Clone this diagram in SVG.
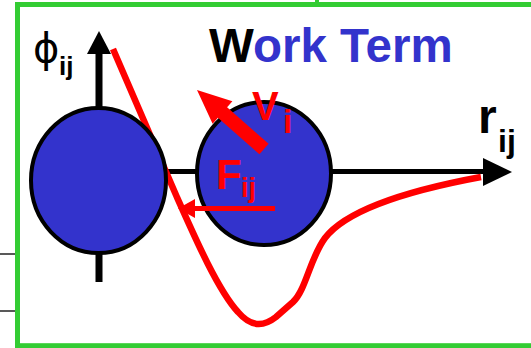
<svg xmlns="http://www.w3.org/2000/svg" width="531" height="348" viewBox="0 0 531 348">
<style>
.t{font-family:"Liberation Sans",Arial,sans-serif;font-weight:bold}
.red{fill:#ff0000}
.blk{fill:#000}
.atom{fill:#3333cc;stroke:#000;stroke-width:4}
</style>
<rect width="531" height="348" fill="#fff"/>
<g id="frame">
<rect x="17.5" y="4.5" width="540" height="341.2" fill="none" stroke="#33cc33" stroke-width="5"/>
<rect x="315" y="0" width="4" height="3" fill="#33cc33"/>
<line x1="0" y1="254" x2="15" y2="254" stroke="#222" stroke-width="1.5"/>
<line x1="0" y1="311" x2="15" y2="311" stroke="#222" stroke-width="1.5"/>
</g>
<g id="connectors">
<line x1="99" y1="50" x2="99" y2="282" stroke="#000" stroke-width="7"/>
<polygon points="99,31 111,54 87,54" fill="#000"/>
<line x1="98" y1="171.5" x2="486" y2="171.5" stroke="#000" stroke-width="5"/>
<polygon points="483,158 512,172 483,186" fill="#000"/>
<path d="M113,49 L176,195 C196,240 218,290 238,312 C250,326 262,328 276,317 L293,302 C306,290 310,258 325,238 C345,212 400,192 481,177" fill="none" stroke="#ff0000" stroke-width="6.5"/>
</g>
<g id="atom-j">
<ellipse cx="98.5" cy="180.5" rx="67.5" ry="72.5" class="atom"/>
</g>
<g id="atom-i">
<ellipse cx="264" cy="173.5" rx="67" ry="71.5" class="atom"/>
</g>
<g id="velocity">
<polygon points="197,90 232.4,101.3 227.1,107.3 268.6,143.8 259.4,154.3 217.9,117.8 212.6,123.8" class="red"/>
<text class="t red" x="252" y="120" font-size="40">V</text>
<text class="t red" x="283" y="133" font-size="34">i</text>
</g>
<g id="force">
<line x1="192" y1="208.5" x2="275" y2="208.5" stroke="#ff0000" stroke-width="5"/>
<polygon points="178,208.5 195,199 195,218" class="red"/>
<text class="t red" x="216" y="189" font-size="42">F</text>
<text class="t red" x="241" y="197" font-size="27">ij</text>
</g>
<g id="labels">
<text class="t" x="209" y="62" font-size="47.5"><tspan fill="#000">W</tspan><tspan fill="#3333cc">ork Term</tspan></text>
<text x="33" y="62" font-size="40" font-family="DejaVu Sans, sans-serif" fill="#000">ϕ</text>
<text class="t blk" x="59" y="75" font-size="26">ij</text>
<text class="t blk" x="478" y="133" font-size="48">r</text>
<text class="t blk" x="498" y="152" font-size="32">ij</text>
</g>
</svg>
